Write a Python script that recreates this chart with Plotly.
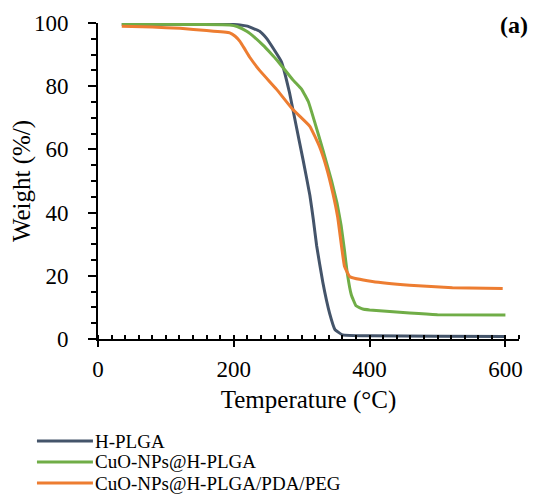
import plotly.graph_objects as go

# TGA curves: temperature (°C) vs weight (%)
temp_hplga = [35, 100, 150, 200, 209, 220, 238, 248, 258, 270, 282, 292, 302, 312, 317, 322, 331, 341, 349, 360, 400, 500, 600]
wt_hplga = [99.6, 99.6, 99.6, 99.5, 99.4, 99.0, 97.4, 95.2, 92, 87.8, 78, 67.3, 56.7, 45.5, 38, 29.5, 18, 8.2, 3.0, 1.3, 1.0, 0.9, 0.8]

temp_cuo = [35, 100, 150, 194, 205, 219, 231, 243, 255, 263, 287, 300, 310, 320, 331, 344, 352, 358, 363, 367, 373, 380, 390, 400, 459, 500, 600]
wt_cuo = [99.6, 99.6, 99.5, 99.4, 98.9, 97.4, 95.4, 93, 90.3, 88.4, 82, 79, 75, 68, 60, 50, 43, 36, 28, 21, 14, 10.5, 9.5, 9.2, 8.2, 7.7, 7.6]

temp_peg = [35, 80, 121, 160, 194, 202, 209, 216, 224, 238, 263, 287, 312, 326, 336, 346, 353, 363, 371, 404, 459, 522, 596]
wt_peg = [99.0, 98.7, 98.3, 97.6, 96.9, 95.8, 94.2, 91.8, 89, 85, 79, 72.6, 67.3, 61, 54.6, 46, 38.5, 23, 19.7, 18.2, 17.0, 16.2, 16.0]

names = ["H-PLGA", "CuO-NPs@H-PLGA", "CuO-NPs@H-PLGA/PDA/PEG"]
colors = ["#44546A", "#70AD47", "#ED7D31"]

FONT = "Liberation Serif"

fig = go.Figure()
for x, y, name, c in zip(
    [temp_hplga, temp_cuo, temp_peg],
    [wt_hplga, wt_cuo, wt_peg],
    names,
    colors,
):
    fig.add_trace(
        go.Scatter(x=x, y=y, mode="lines", name=name, showlegend=False,
                   line=dict(color=c, width=3, shape="spline", smoothing=0.3),
                   cliponaxis=False)
    )

# legend drawn below the plot, one row per series
legend_y = [-0.323, -0.389, -0.456]
for name, c, ly in zip(names, colors, legend_y):
    fig.add_shape(type="line", xref="paper", yref="paper",
                  x0=-0.145, x1=-0.012, y0=ly, y1=ly,
                  line=dict(color=c, width=3))
    fig.add_annotation(text=name, xref="paper", yref="paper", x=-0.01, y=ly,
                       xanchor="left", yanchor="middle", showarrow=False,
                       borderpad=0,
                       font=dict(family=FONT, size=19, color="black"))

fig.add_annotation(
    text="<b>(a)</b>", x=0.988, y=0.994, xref="paper", yref="paper",
    xanchor="center", yanchor="middle",
    showarrow=False, font=dict(family=FONT, size=24, color="black"),
)

tick_font = dict(family=FONT, size=23, color="black")

fig.update_layout(
    width=539,
    height=495,
    margin=dict(l=90, r=28, t=15, b=164, autoexpand=False),
    paper_bgcolor="white",
    plot_bgcolor="white",
    font=dict(family=FONT, size=23, color="black"),
    showlegend=False,
    xaxis=dict(
        range=[0, 620], tickvals=[0, 200, 400, 600], tickfont=tick_font,
        showline=True, linecolor="black", linewidth=2, showgrid=False, zeroline=False,
        ticks="outside", ticklen=6, tickwidth=2, tickcolor="black",
        ticklabelstandoff=2,
        minor=dict(dtick=20, ticks="inside", ticklen=4, tickwidth=1.5, tickcolor="black", showgrid=False),
        title=dict(text="Temperature (°C)", font=dict(family=FONT, size=25), standoff=10),
    ),
    yaxis=dict(
        range=[0, 100], tickvals=[0, 20, 40, 60, 80, 100], tickfont=tick_font,
        showline=True, linecolor="black", linewidth=2, showgrid=False, zeroline=False,
        ticks="outside", ticklen=8, tickwidth=2, tickcolor="black",
        ticklabelstandoff=15,
        minor=dict(dtick=5, ticks="outside", ticklen=5, tickwidth=1.5, tickcolor="black", showgrid=False),
        title=dict(text="Weight (%/)", font=dict(family=FONT, size=25), standoff=0),
    ),
)

fig.write_html("out.html")
